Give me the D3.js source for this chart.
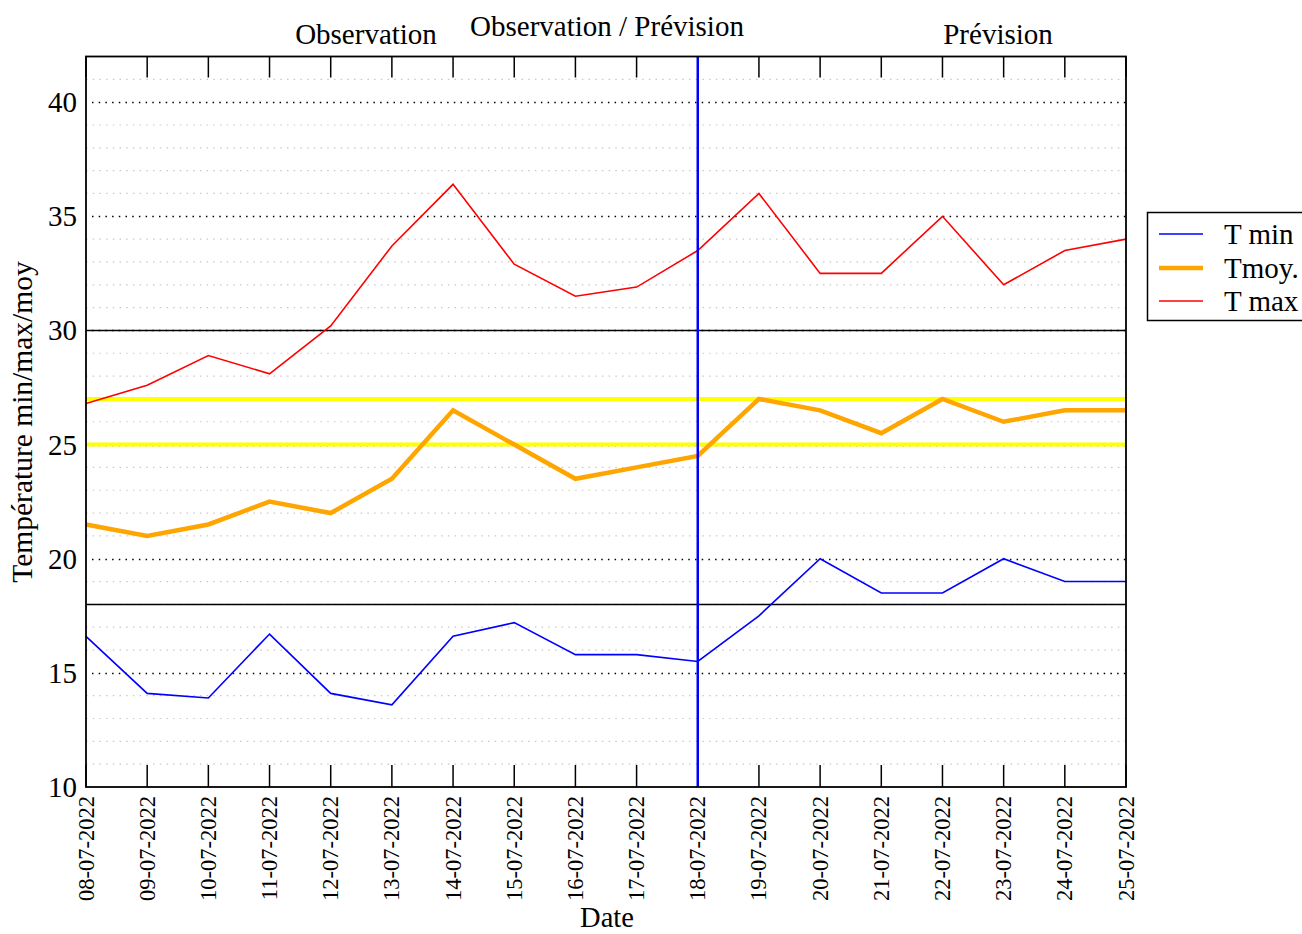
<!DOCTYPE html>
<html><head><meta charset="utf-8">
<script src="https://cdn.jsdelivr.net/npm/d3@7"></script>
<style>body{margin:0;background:#fff}svg{display:block}text{font-family:"Liberation Serif","DejaVu Serif",serif;fill:#000}</style>
</head><body>
<script>
const dates = ["08-07-2022","09-07-2022","10-07-2022","11-07-2022","12-07-2022","13-07-2022","14-07-2022","15-07-2022","16-07-2022","17-07-2022","18-07-2022","19-07-2022","20-07-2022","21-07-2022","22-07-2022","23-07-2022","24-07-2022","25-07-2022"];
const tMin = [16.6,14.1,13.9,16.7,14.1,13.6,16.6,17.2,15.8,15.8,15.5,17.5,20.0,18.5,18.5,20.0,19.0,19.0];
const tMoy = [21.5,21.0,21.5,22.5,22.0,23.5,26.5,25.0,23.5,24.0,24.5,27.0,26.5,25.5,27.0,26.0,26.5,26.5];
const tMax = [26.8,27.6,28.9,28.1,30.2,33.7,36.4,32.9,31.5,31.9,33.5,36.0,32.5,32.5,35.0,32.0,33.5,34.0];
const yMajorTicks = [10,15,20,25,30,35,40];
const yMinorTicks = [11,12,13,14,16,17,18,19,21,22,23,24,26,27,28,29,31,32,33,34,36,37,38,39,41];
const blackRefs = [30,18];
const yellowRefs = [27,25];
const splitDate = "18-07-2022";
const seriesNames = ["T min","Tmoy.","T max"];

const W=1302,H=934,L=86,R=1126,T=56.5,B=787;
const svg=d3.select("body").append("svg").attr("width",W).attr("height",H);
const x=d3.scalePoint().domain(dates).range([L,R]).padding(0);
const y=d3.scaleLinear().domain([10,42]).range([B,T]);

// minor grid
svg.append("g").selectAll("line").data(yMinorTicks).join("line")
  .attr("x1",L).attr("x2",R).attr("y1",d=>y(d)).attr("y2",d=>y(d))
  .attr("stroke","#c8c8c8").attr("stroke-width",1.2).attr("stroke-dasharray","1.5,5.2");
// major grid
svg.append("g").selectAll("line").data(yMajorTicks.filter(d=>d>10)).join("line")
  .attr("x1",L+6).attr("x2",R).attr("y1",d=>Math.round(y(d))+0.5).attr("y2",d=>Math.round(y(d))+0.5)
  .attr("stroke","#000").attr("stroke-width",1.4).attr("stroke-dasharray","1.5,5.2");

// reference lines
svg.append("g").selectAll("line").data(blackRefs).join("line")
  .attr("x1",L).attr("x2",R).attr("y1",d=>y(d)).attr("y2",d=>y(d))
  .attr("stroke","#000").attr("stroke-width",1.5);
svg.append("g").selectAll("line").data(yellowRefs).join("line")
  .attr("x1",L).attr("x2",R).attr("y1",d=>y(d)).attr("y2",d=>y(d))
  .attr("stroke","#ffff00").attr("stroke-width",4);

// ticks top/bottom
const tk=svg.append("g");
tk.selectAll(".tb").data(dates).join("line").attr("class","tb")
  .attr("x1",d=>x(d)).attr("x2",d=>x(d)).attr("y1",B).attr("y2",B-22)
  .attr("stroke","#000").attr("stroke-width",1.5);
tk.selectAll(".tt").data(dates).join("line").attr("class","tt")
  .attr("x1",d=>x(d)).attr("x2",d=>x(d)).attr("y1",T).attr("y2",T+21)
  .attr("stroke","#000").attr("stroke-width",1.5);

// series
const line=d3.line().x((d,i)=>x(dates[i])).y(d=>y(d));
const series=[{v:tMin,c:"#0000ff",w:1.6},{v:tMoy,c:"#ffa500",w:4.5},{v:tMax,c:"#ff0000",w:1.6}];
svg.append("g").selectAll("path").data(series).join("path")
  .attr("d",d=>line(d.v)).attr("fill","none").attr("stroke",d=>d.c).attr("stroke-width",d=>d.w)
  .attr("stroke-linejoin","miter");

// vertical split line
svg.append("line").attr("x1",x(splitDate)).attr("x2",x(splitDate)).attr("y1",T).attr("y2",B)
  .attr("stroke","#0000ff").attr("stroke-width",2.5);

// frame
svg.append("rect").attr("x",L).attr("y",T).attr("width",R-L).attr("height",B-T)
  .attr("fill","none").attr("stroke","#000").attr("stroke-width",1.8);

// y tick labels
svg.append("g").selectAll("text").data(yMajorTicks).join("text")
  .attr("x",77).attr("y",d=>y(d)).attr("text-anchor","end").attr("dominant-baseline","central")
  .attr("font-size",29).text(d=>d);
// x tick labels
svg.append("g").selectAll("text").data(dates).join("text")
  .attr("transform",d=>`translate(${x(d)},796) rotate(-90)`)
  .attr("text-anchor","end").attr("dominant-baseline","central")
  .attr("font-size",22.5).text(d=>d);

// axis titles
svg.append("text").attr("x",607).attr("y",927).attr("text-anchor","middle").attr("font-size",28.5).text("Date");
svg.append("text").attr("transform","translate(22,422) rotate(-90)").attr("text-anchor","middle")
  .attr("dominant-baseline","central").attr("font-size",29.5).text("Température min/max/moy");

// top titles
svg.append("text").attr("x",366).attr("y",44).attr("text-anchor","middle").attr("font-size",29).text("Observation");
svg.append("text").attr("x",607).attr("y",36).attr("text-anchor","middle").attr("font-size",29).text("Observation / Prévision");
svg.append("text").attr("x",998).attr("y",44).attr("text-anchor","middle").attr("font-size",29).text("Prévision");

// legend
const lg=svg.append("g");
lg.append("rect").attr("x",1147.5).attr("y",212.5).attr("width",200).attr("height",108)
  .attr("fill","#fff").attr("stroke","#000").attr("stroke-width",1.5);
const ly=[234,268,301];
lg.selectAll("line").data(series).join("line")
  .attr("x1",1159).attr("x2",1203).attr("y1",(d,i)=>ly[i]).attr("y2",(d,i)=>ly[i])
  .attr("stroke",d=>d.c).attr("stroke-width",d=>d.w);
lg.selectAll("text").data(seriesNames).join("text")
  .attr("x",1224).attr("y",(d,i)=>ly[i]).attr("dominant-baseline","central").attr("font-size",29).text(d=>d);
</script>
</body></html>
